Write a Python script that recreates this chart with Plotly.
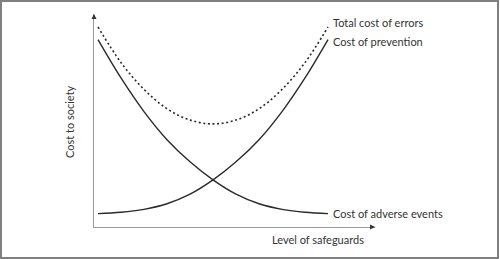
import plotly.graph_objects as go

# Level of safeguards (arbitrary units) and cost values
levels = [0, 1, 2, 3, 4, 5, 6, 7, 8, 9, 10]
cost_adverse = [88.0, 70.0, 54.2, 41.0, 30.6, 22.1, 15.4, 10.9, 8.3, 6.9, 6.3]
cost_prevention = [6.3, 6.9, 8.3, 10.9, 15.4, 22.1, 30.6, 41.0, 54.2, 70.0, 88.0]
cost_total = [93.9, 77.2, 64.6, 55.5, 50.2, 48.4, 50.2, 55.5, 64.6, 77.2, 93.9]

label_total = "Total cost of errors"
label_prevention = "Cost of prevention"
label_adverse = "Cost of adverse events"
x_title = "Level of safeguards"
y_title = "Cost to society"

W, H = 500, 259
ML, MR, MT, MB = 94, 125, 14, 32
XR = [-0.174, 12.043]
YR = [0, 100]

FONT = "Lato"
TXT = "#333333"
CURVE = "#2a2a2a"
AXIS = "#9a9a9a"

fig = go.Figure()
fig.add_trace(go.Scatter(x=levels, y=cost_total, mode="lines",
                         line=dict(color=CURVE, width=1.6, dash="2px,2.6px", shape="spline"),
                         hoverinfo="skip"))
fig.add_trace(go.Scatter(x=levels, y=cost_prevention, mode="lines",
                         line=dict(color=CURVE, width=1.4, shape="spline"),
                         hoverinfo="skip"))
fig.add_trace(go.Scatter(x=levels, y=cost_adverse, mode="lines",
                         line=dict(color=CURVE, width=1.4, shape="spline"),
                         hoverinfo="skip"))

ann = []
# curve labels
ann.append(dict(x=levels[-1], y=cost_total[-1], text=label_total, xanchor="left",
                yanchor="middle", xshift=3, yshift=4, showarrow=False))
ann.append(dict(x=levels[-1], y=cost_prevention[-1], text=label_prevention, xanchor="left",
                yanchor="middle", xshift=3, yshift=-2, showarrow=False))
ann.append(dict(x=levels[-1], y=cost_adverse[-1], text=label_adverse, xanchor="left",
                yanchor="middle", xshift=3, yshift=0, showarrow=False))
# axis titles
ann.append(dict(x=9.55, xref="x", y=0, yref="paper", text=x_title, xanchor="center",
                yanchor="middle", yshift=-12, showarrow=False))
ann.append(dict(x=0, xref="paper", y=49.3, yref="y", text=y_title, textangle=-90,
                xanchor="center", yanchor="middle", xshift=-24, showarrow=False))
# axis arrowheads
ann.append(dict(x=1, xref="paper", y=0, yref="paper", ax=-6, ay=0, text="",
                showarrow=True, arrowhead=2, arrowsize=1, arrowwidth=1, arrowcolor="#333"))
ann.append(dict(x=0, xref="paper", y=1, yref="paper", ax=0, ay=6, text="",
                showarrow=True, arrowhead=2, arrowsize=1, arrowwidth=1, arrowcolor="#333"))

pw = W - ML - MR
ph = H - MT - MB
shapes = [dict(type="rect", xref="paper", yref="paper",
               x0=(1 - ML) / pw, x1=(498 - ML) / pw,
               y0=(H - 258 - MB) / ph, y1=(H - 1 - MB) / ph,
               line=dict(color="#808080", width=2), layer="above")]

fig.update_layout(
    width=W, height=H,
    margin=dict(l=ML, r=MR, t=MT, b=MB, pad=0),
    paper_bgcolor="white", plot_bgcolor="white",
    showlegend=False,
    font=dict(family=FONT, size=11, color=TXT),
    annotations=ann, shapes=shapes,
    xaxis=dict(range=XR, showgrid=False, zeroline=False, showticklabels=False,
               ticks="", showline=True, linecolor=AXIS, linewidth=1, fixedrange=True),
    yaxis=dict(range=YR, showgrid=False, zeroline=False, showticklabels=False,
               ticks="", showline=True, linecolor=AXIS, linewidth=1, fixedrange=True),
)

fig.write_html("out.html", config={"displayModeBar": False})
